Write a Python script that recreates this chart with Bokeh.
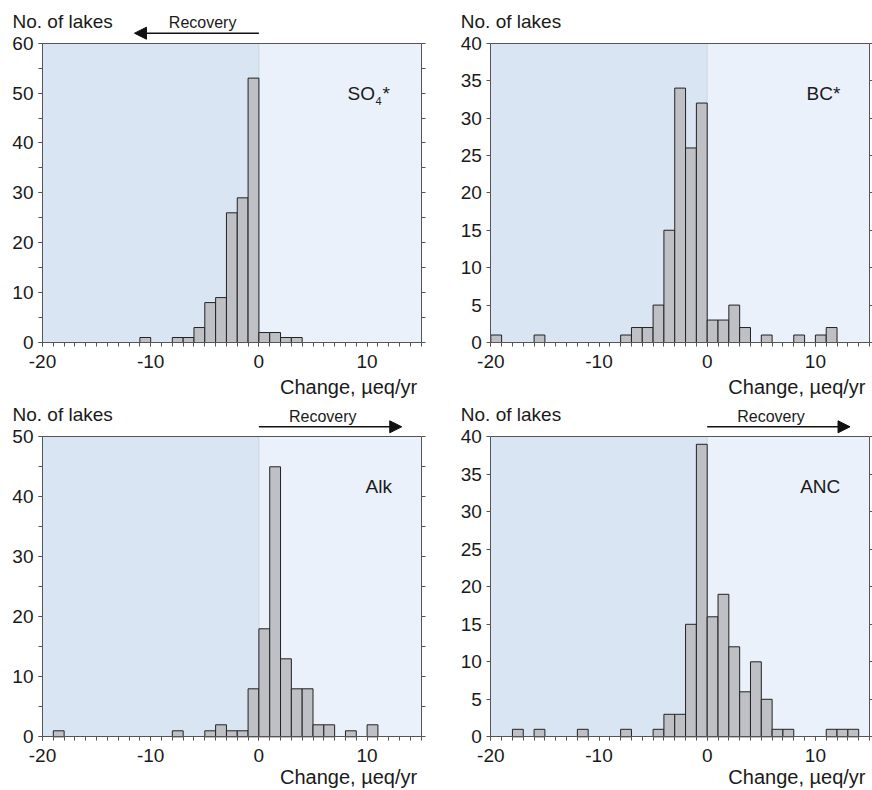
from bokeh.plotting import figure
from bokeh.models import (Range1d, LinearAxis, SingleIntervalTicker, BoxAnnotation,
                          Label, Arrow, NormalHead, CustomJSTickFormatter)
from bokeh.layouts import column, row
from bokeh.embed import file_html
from bokeh.resources import INLINE

# ---------------- data ----------------
bin_width = 1

so4_left = [-11, -8, -7, -6, -5, -4, -3, -2, -1, 0, 1, 2, 3]
so4_counts = [1, 1, 1, 3, 8, 9, 26, 29, 53, 2, 2, 1, 1]

bc_left = [-20, -16, -8, -7, -6, -5, -4, -3, -2, -1, 0, 1, 2, 3, 5, 8, 10, 11]
bc_counts = [1, 1, 1, 2, 2, 5, 15, 34, 26, 32, 3, 3, 5, 2, 1, 1, 1, 2]

alk_left = [-19, -8, -5, -4, -3, -2, -1, 0, 1, 2, 3, 4, 5, 6, 8, 10]
alk_counts = [1, 1, 1, 2, 1, 1, 8, 18, 45, 13, 8, 8, 2, 2, 1, 2]

anc_left = [-18, -16, -12, -8, -5, -4, -3, -2, -1, 0, 1, 2, 3, 4, 5, 6, 7, 11, 12, 13]
anc_counts = [1, 1, 1, 1, 1, 3, 3, 15, 39, 16, 19, 12, 6, 10, 5, 1, 1, 1, 1, 1]

x_min, x_max = -20, 15
y_max = [60, 40, 50, 40]
y_tick_interval = [10, 5, 10, 5]
panel_names = ["SO4*", "BC*", "Alk", "ANC"]
x_tick_labels = ["-20", "-10", "0", "10"]
y_title = "No. of lakes"
x_title = "Change, \u00b5eq/yr"
recovery_text = "Recovery"
recovery_arrow_end = [-11.5, None, 13.2, 13.2]
recovery_text_x = [-5.2, None, 5.9, 5.9]

FONT = "Liberation Sans"
CELL_W = 436
LEFT_BG = "#dae5f3"
RIGHT_BG = "#eaf1fa"
BAR_FILL = "#bfc0c5"
AXIS_COL = "#555555"
TXT = "#1a1a1a"
BLANK = CustomJSTickFormatter(code="return ''")


def make_panel(idx, lefts, counts, cell_h, pad_left, pad_top, frame_w, frame_h,
               xtitle_offset):
    """pad_left/pad_top: pixel position of the data box inside the cell."""
    ymax = y_max[idx]
    sx = frame_w / (x_max - x_min)
    sy = frame_h / ymax
    pad_right = CELL_W - pad_left - frame_w
    pad_bottom = cell_h - pad_top - frame_h
    p = figure(width=CELL_W, height=cell_h,
               x_range=Range1d(x_min - pad_left / sx, x_max + pad_right / sx),
               y_range=Range1d(-pad_bottom / sy, ymax + pad_top / sy),
               output_backend="svg", toolbar_location=None, min_border=0,
               x_axis_type=None, y_axis_type=None,
               background_fill_color="white", border_fill_color="white",
               outline_line_color=None)

    # background shading of the data box
    p.add_layout(BoxAnnotation(left=x_min, right=0, bottom=0, top=ymax,
                               fill_color=LEFT_BG, fill_alpha=1,
                               line_color=None, level="underlay"))
    p.add_layout(BoxAnnotation(left=0, right=x_max, bottom=0, top=ymax,
                               fill_color=RIGHT_BG, fill_alpha=1,
                               line_color=None, level="underlay"))
    p.add_layout(BoxAnnotation(left=0, right=0, bottom=0, top=ymax,
                               fill_alpha=0, line_color="#a0a8b4",
                               line_width=1.2, level="underlay"))

    rights = [l + bin_width for l in lefts]
    p.quad(left=lefts, right=rights, bottom=0, top=counts,
           fill_color=BAR_FILL, line_color="#222222", line_width=1)

    common = dict(axis_line_color=AXIS_COL, major_tick_line_color=AXIS_COL,
                  minor_tick_line_color=AXIS_COL, major_tick_in=0, major_tick_out=4,
                  minor_tick_in=0, minor_tick_out=4,
                  major_label_text_font=FONT, major_label_text_font_size="19px",
                  major_label_text_color=TXT)

    # bottom x axis
    xa = LinearAxis(ticker=SingleIntervalTicker(interval=10, num_minor_ticks=10),
                    fixed_location=0, bounds=(x_min, x_max),
                    major_label_standoff=8, **common)
    xa.major_label_overrides = {-20: x_tick_labels[0], -10: x_tick_labels[1],
                                0: x_tick_labels[2], 10: x_tick_labels[3]}
    p.add_layout(xa, "below")

    # left y axis
    yint = y_tick_interval[idx]
    ya = LinearAxis(ticker=SingleIntervalTicker(interval=yint,
                                                num_minor_ticks=2 if yint == 10 else 0),
                    fixed_location=x_min, bounds=(0, ymax),
                    major_label_standoff=5, **common)
    if yint != 10:
        ya.minor_tick_line_color = None
    p.add_layout(ya, "left")

    # right axis: ticks only
    ra = LinearAxis(ticker=SingleIntervalTicker(interval=5, num_minor_ticks=0),
                    formatter=BLANK, fixed_location=x_max, bounds=(0, ymax),
                    major_label_standoff=0, major_tick_in=0, major_tick_out=4,
                    minor_tick_line_color=None, axis_line_color=AXIS_COL,
                    major_tick_line_color=AXIS_COL)
    p.add_layout(ra, "right")

    # top frame line
    ta = LinearAxis(ticker=SingleIntervalTicker(interval=10, num_minor_ticks=0),
                    formatter=BLANK, fixed_location=ymax, bounds=(x_min, x_max),
                    major_label_standoff=0, major_tick_line_color=None,
                    minor_tick_line_color=None, axis_line_color=AXIS_COL)
    p.add_layout(ta, "above")

    # titles
    p.add_layout(Label(x=x_min, y=ymax, x_offset=-30, y_offset=22, text=y_title,
                       text_font=FONT, text_font_size="19px", text_color=TXT,
                       text_baseline="alphabetic", text_align="left"))
    p.add_layout(Label(x=x_max, y=0, x_offset=-4, y_offset=xtitle_offset, text=x_title,
                       text_font=FONT, text_font_size="20px", text_color=TXT,
                       text_baseline="alphabetic", text_align="right"))

    # panel name
    name = panel_names[idx]
    if name == "SO4*":
        p.add_layout(Label(x=8.2, y=ymax, y_offset=-50, text="SO", text_font=FONT,
                           text_font_size="19px", text_color=TXT,
                           text_baseline="alphabetic", text_align="left"))
        p.add_layout(Label(x=8.2, y=ymax, x_offset=28, y_offset=-58, text="4",
                           text_font=FONT, text_font_size="11px", text_color=TXT,
                           text_baseline="alphabetic", text_align="left"))
        p.add_layout(Label(x=8.2, y=ymax, x_offset=35, y_offset=-50, text="*",
                           text_font=FONT, text_font_size="19px", text_color=TXT,
                           text_baseline="alphabetic", text_align="left"))
    else:
        p.add_layout(Label(x=12.3, y=ymax, y_offset=-50, text=name, text_font=FONT,
                           text_font_size="19px", text_color=TXT,
                           text_baseline="alphabetic", text_align="right"))

    # recovery arrow
    if recovery_arrow_end[idx] is not None:
        y_arrow = ymax + 10 / sy
        p.add_layout(Arrow(end=NormalHead(size=12, fill_color="#111111",
                                          line_color="#111111"),
                           x_start=0, y_start=y_arrow,
                           x_end=recovery_arrow_end[idx], y_end=y_arrow,
                           line_color="#111111", line_width=1.5))
        p.add_layout(Label(x=recovery_text_x[idx], y=ymax, y_offset=20.5,
                           text=recovery_text, text_font=FONT, text_font_size="16px",
                           text_color=TXT, text_baseline="alphabetic",
                           text_align="center"))
    return p


TOP_H, BOT_H = 398, 392
p1 = make_panel(0, so4_left, so4_counts, TOP_H, 42, 42.7, 378.7, 299.3, -44)
p2 = make_panel(1, bc_left, bc_counts, TOP_H, 54.3, 42.7, 378.7, 299.3, -44)
p3 = make_panel(2, alk_left, alk_counts, BOT_H, 42, 38.3, 378.7, 300, -40)
p4 = make_panel(3, anc_left, anc_counts, BOT_H, 54.3, 38.3, 378.7, 300, -40)

layout = column(row(p1, p2), row(p3, p4))

open("out.html", "w").write(file_html(layout, INLINE))
